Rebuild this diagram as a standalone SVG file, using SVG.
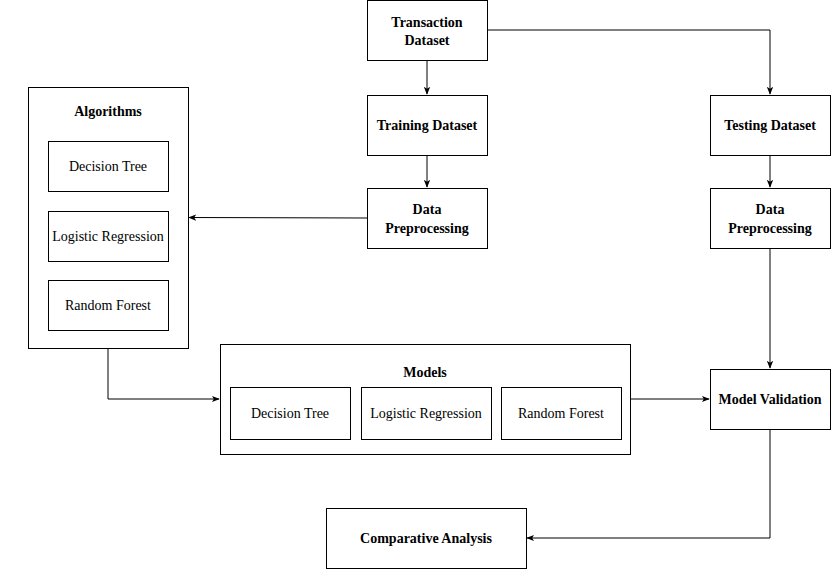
<svg xmlns="http://www.w3.org/2000/svg" width="831" height="569" viewBox="0 0 831 569">
<defs>
<style>
.box{fill:#fff;stroke:#000;stroke-width:1}
.t{font-family:"Liberation Serif","Times New Roman",serif;font-size:14px;fill:#000;text-anchor:middle}
.b{font-weight:bold}
.c{fill:none;stroke:#000;stroke-width:1}
</style>
<marker id="ah" viewBox="0 0 10 10" refX="9" refY="5" markerWidth="8" markerHeight="8" markerUnits="userSpaceOnUse" orient="auto">
<path d="M0,1 L10,5 L0,9 L2.5,5 Z" fill="#000"/>
</marker>
</defs>
<rect width="831" height="569" fill="#fff"/>
<g id="connectors">
<path class="c" d="M427,60 V94" marker-end="url(#ah)"/>
<path class="c" d="M487,30 H770 V94" marker-end="url(#ah)"/>
<path class="c" d="M427,155 V187" marker-end="url(#ah)"/>
<path class="c" d="M770,155 V187" marker-end="url(#ah)"/>
<path class="c" d="M367,218 L189,217.5" marker-end="url(#ah)"/>
<path class="c" d="M108,348 V399 H219" marker-end="url(#ah)"/>
<path class="c" d="M630,399 H709" marker-end="url(#ah)"/>
<path class="c" d="M770,248 V368" marker-end="url(#ah)"/>
<path class="c" d="M770,429 V538 H527" marker-end="url(#ah)"/>
</g>
<g id="transaction">
<rect class="box" x="367.5" y="0.5" width="120" height="60"/>
<text class="t b" x="427" y="26.5">Transaction</text>
<text class="t b" x="427" y="44.5">Dataset</text>
</g>
<g id="training">
<rect class="box" x="367.5" y="95.5" width="120" height="60"/>
<text class="t b" x="427" y="130">Training Dataset</text>
</g>
<g id="testing">
<rect class="box" x="710.5" y="95.5" width="120" height="60"/>
<text class="t b" x="770" y="130">Testing Dataset</text>
</g>
<g id="preproc-left">
<rect class="box" x="367.5" y="188.5" width="120" height="60"/>
<text class="t b" x="427" y="214">Data</text>
<text class="t b" x="427" y="233">Preprocessing</text>
</g>
<g id="preproc-right">
<rect class="box" x="710.5" y="188.5" width="120" height="60"/>
<text class="t b" x="770" y="214">Data</text>
<text class="t b" x="770" y="233">Preprocessing</text>
</g>
<g id="algorithms">
<rect class="box" x="28.5" y="87.5" width="160" height="261"/>
<text class="t b" x="108" y="116">Algorithms</text>
<rect class="box" x="48.5" y="141.5" width="120" height="50"/>
<text class="t" x="108" y="171">Decision Tree</text>
<rect class="box" x="48.5" y="211.5" width="120" height="50"/>
<text class="t" x="108" y="241">Logistic Regression</text>
<rect class="box" x="48.5" y="280.5" width="120" height="50"/>
<text class="t" x="108" y="310">Random Forest</text>
</g>
<g id="models">
<rect class="box" x="220.5" y="344.5" width="410" height="110"/>
<text class="t b" x="425" y="377">Models</text>
<rect class="box" x="230.5" y="387.5" width="120" height="52"/>
<text class="t" x="290" y="418">Decision Tree</text>
<rect class="box" x="361.5" y="387.5" width="130" height="52"/>
<text class="t" x="426" y="418">Logistic Regression</text>
<rect class="box" x="501.5" y="387.5" width="120" height="52"/>
<text class="t" x="561" y="418">Random Forest</text>
</g>
<g id="validation">
<rect class="box" x="710.5" y="369.5" width="120" height="60"/>
<text class="t b" x="770" y="404">Model Validation</text>
</g>
<g id="comparative">
<rect class="box" x="326.5" y="508.5" width="200" height="60"/>
<text class="t b" x="426" y="543">Comparative Analysis</text>
</g>
</svg>
